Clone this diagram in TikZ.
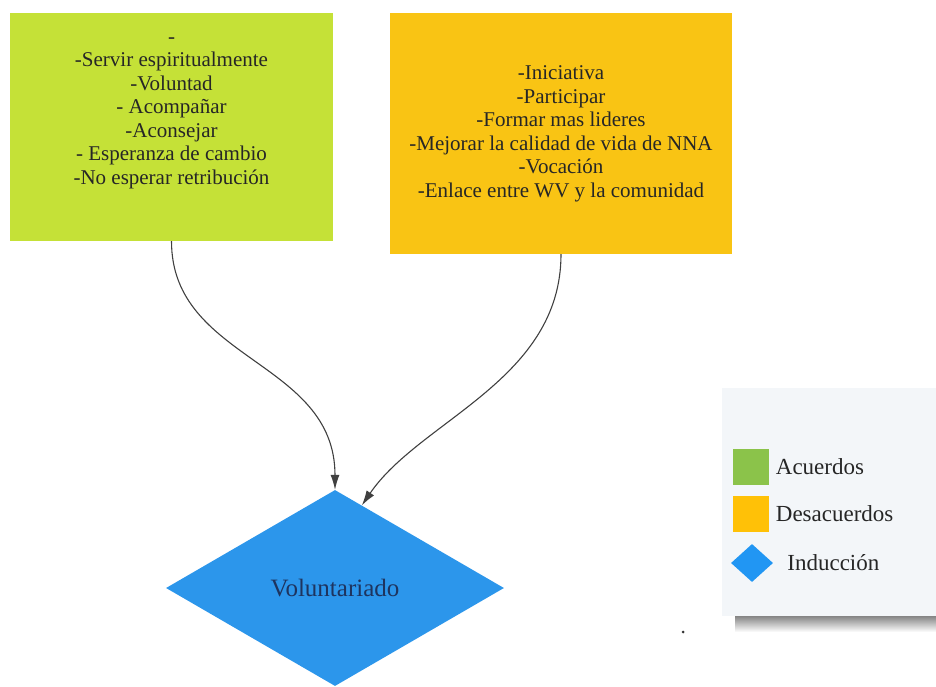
\documentclass[tikz,border=0pt]{standalone}
\usepackage{fontspec}
\setmainfont{Liberation Serif}
\usepackage{tikz}
\usetikzlibrary{arrows.meta,positioning,shapes.geometric}

\definecolor{boxgreen}{RGB}{197,225,55}
\definecolor{boxorange}{RGB}{249,196,20}
\definecolor{diablue}{RGB}{44,150,235}
\definecolor{leggreen}{RGB}{139,195,74}
\definecolor{legorange}{RGB}{255,193,7}
\definecolor{legblue}{RGB}{33,150,243}
\definecolor{legbg}{RGB}{243,246,249}
\definecolor{voltext}{RGB}{30,52,95}

\begin{document}
\begin{tikzpicture}[x=1pt,y=-1pt,
	box/.style={rectangle, inner sep=0pt},
	boxtext/.style={inner sep=0pt, align=center, text=black!85, font=\fontsize{21}{23.5}\selectfont},
	legtext/.style={inner sep=0pt, text=black!85, font=\fontsize{23}{26}\selectfont},
	link/.style={black!75, line width=1.1pt, -{Latex[length=15pt,width=9pt]}}]
		\useasboundingbox (0,0) rectangle (936,687);

		\node (acuerdos) at (171.5,127) [box, fill=boxgreen, minimum width=323pt, minimum height=228pt] {};
		\node (acuerdostxt) at (171.5,113) [boxtext] {-\\-Servir espiritualmente\\-Voluntad\\- Acompañar\\-Aconsejar\\- Esperanza de cambio\\-No esperar retribución};

		\node (desacuerdos) at (561,133.5) [box, fill=boxorange, minimum width=342pt, minimum height=241pt] {};
		\node (desacuerdostxt) at (561,134) [boxtext] {-Iniciativa\\-Participar\\-Formar mas lideres\\-Mejorar la calidad de vida de NNA\\-Vocación\\-Enlace entre WV y la comunidad};

		\node (vol) at (335,588) [diamond, fill=diablue, inner sep=0pt, minimum width=338pt, minimum height=196pt, text=voltext, font=\fontsize{25}{28}\selectfont] {Voluntariado};

		\draw [link] (acuerdos.south) .. controls +(0,120) and +(0,-130) .. (vol.north);
		\draw [link] (desacuerdos.south) .. controls +(0,126) and (420,420) .. (vol.72);

		% legend
		\shade [top color=black!60, bottom color=white] (735,612) rectangle (936,632);
		\node (legend) at (829,502) [box, fill=legbg, minimum width=214pt, minimum height=228pt] {};
		\node (leg1) at (750.5,466.5) [box, fill=leggreen, minimum size=36pt] {};
		\node (leg2) at (750.5,514) [box, fill=legorange, minimum size=36pt] {};
		\node (leg3) at (752,563) [diamond, fill=legblue, inner sep=0pt, minimum width=42pt, minimum height=38pt] {};
		\node [legtext, right=7pt of leg1] {Acuerdos};
		\node [legtext, right=7pt of leg2] {Desacuerdos};
		\node [legtext, right=14pt of leg3] {Inducción};

		\fill [black!80] (683,632) circle (1.5pt);
	\end{tikzpicture}
\end{document}
